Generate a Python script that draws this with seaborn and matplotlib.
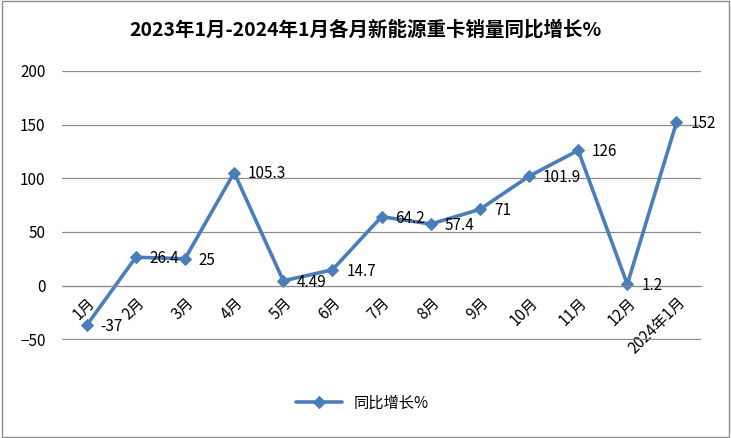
import numpy as np
import pandas as pd
import matplotlib
matplotlib.use("Agg")
import matplotlib.pyplot as plt
import seaborn as sns

months = ["1月", "2月", "3月", "4月", "5月", "6月", "7月", "8月", "9月",
          "10月", "11月", "12月", "2024年1月"]
growth = [-37, 26.4, 25, 105.3, 4.49, 14.7, 64.2, 57.4, 71, 101.9, 126, 1.2, 152]
labels = ["-37", "26.4", "25", "105.3", "4.49", "14.7", "64.2", "57.4", "71",
          "101.9", "126", "1.2", "152"]

sns.set_style("white")
plt.rcParams['font.family'] = ['Noto Sans CJK SC', 'DejaVu Sans']
plt.rcParams['text.color'] = 'black'
plt.rcParams['xtick.color'] = 'black'
plt.rcParams['ytick.color'] = 'black'

df = pd.DataFrame({"month": months, "growth": growth})
df["x"] = np.arange(len(months))

fig = plt.figure(figsize=(7.31, 4.38), dpi=100)
ax = fig.add_axes([0.085, 0.224, 0.874, 0.614])

blue = "#4A7EBB"
sns.lineplot(data=df, x="x", y="growth", ax=ax, color=blue, lw=2.6,
             marker="D", markersize=6.5, markeredgecolor=blue, label="同比增长%")

for xi, yi, t in zip(df["x"], df["growth"], labels):
    ax.annotate(t, (xi, yi), xytext=(10, -1), textcoords="offset points",
                ha="left", va="center", fontsize=11, color="black")

ax.set_xlim(-0.5, len(months) - 0.5)
ax.set_ylim(-50.6, 200)
ax.set_yticks([-50, 0, 50, 100, 150, 200])
ax.yaxis.grid(True, color="#8C8C8C", lw=0.9)
ax.set_axisbelow(True)
for s in ["left", "right", "top"]:
    ax.spines[s].set_visible(False)
ax.spines["bottom"].set_position(("data", 0))
ax.spines["bottom"].set_color("#8C8C8C")
ax.set_xticks(df["x"])
ax.set_xticklabels(months, rotation=45, ha="right", rotation_mode="anchor", fontsize=11)
ax.tick_params(axis="x", length=0, pad=6)
ax.tick_params(axis="y", length=0, labelsize=11, pad=12)
ax.set_xlabel("")
ax.set_ylabel("")

fig.suptitle("2023年1月-2024年1月各月新能源重卡销量同比增长%", y=0.955,
             fontsize=14, fontweight="bold", color="black")

ax.legend(loc="center", bbox_to_anchor=(0.47, -0.235), frameon=False,
          fontsize=11, handlelength=3)

fig.patches.append(plt.Rectangle((0.003, 0.003), 0.994, 0.994, transform=fig.transFigure,
                                 fill=False, edgecolor="#8C8C8C", lw=1))

fig.savefig("out.png", dpi=100)
